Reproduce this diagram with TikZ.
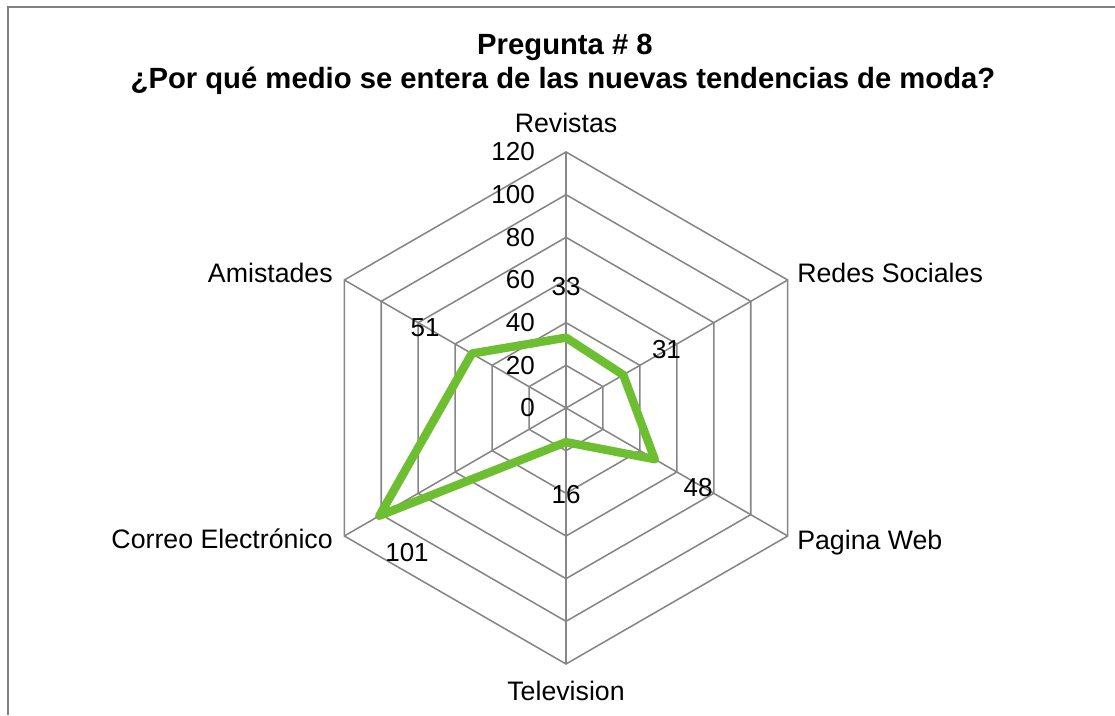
\documentclass[tikz,border=0pt]{standalone}
\usepackage{fontspec}
\setmainfont{Liberation Sans}
\usetikzlibrary{positioning}
\definecolor{chartgray}{RGB}{134,134,134}
\definecolor{chartgreen}{RGB}{110,190,50}
\definecolor{framegray}{RGB}{128,128,128}

\begin{document}
\begin{tikzpicture}[
    x=0.025cm, y=0.025cm,
    frame/.style={draw=framegray, line width=1.5pt},
    grid/.style={draw=chartgray, line width=1.1pt},
    serie/.style={draw=chartgreen, line width=6pt, line join=round},
    axislabel/.style={inner sep=0pt, font=\fontsize{19}{23}\selectfont},
    ticklabel/.style={inner sep=0pt, anchor=east, font=\fontsize{18.5}{22}\selectfont},
    datalabel/.style={inner sep=0pt, font=\fontsize{18.5}{22}\selectfont},
    titlelabel/.style={inner sep=0pt, anchor=base, font=\bfseries\fontsize{20.8}{25}\selectfont}
]
\useasboundingbox (0,0) rectangle (1115,715);
\draw[frame] (8,0) -- (8,708) -- (1115,708);

\node[titlelabel] (title1) at (565,660) {Pregunta \# 8};
\node[titlelabel] (title2) at (563,626) {¿Por qué medio se entera de las nuevas tendencias de moda?};

\begin{scope}[shift={(566,307)}]
    \coordinate (o) at (0,0);
    \coordinate (rev) at (90:256);
    \coordinate (red) at (30:256);
    \coordinate (pag) at (-30:256);
    \coordinate (tel) at (-90:256);
    \coordinate (cor) at (210:256);
    \coordinate (ami) at (150:256);

    % rings every 20
    \draw[grid] (90:42.67) -- (30:42.67) -- (-30:42.67) -- (-90:42.67) -- (210:42.67) -- (150:42.67) -- cycle;
    \draw[grid] (90:85.33) -- (30:85.33) -- (-30:85.33) -- (-90:85.33) -- (210:85.33) -- (150:85.33) -- cycle;
    \draw[grid] (90:128) -- (30:128) -- (-30:128) -- (-90:128) -- (210:128) -- (150:128) -- cycle;
    \draw[grid] (90:170.67) -- (30:170.67) -- (-30:170.67) -- (-90:170.67) -- (210:170.67) -- (150:170.67) -- cycle;
    \draw[grid] (90:213.33) -- (30:213.33) -- (-30:213.33) -- (-90:213.33) -- (210:213.33) -- (150:213.33) -- cycle;
    \draw[grid] (rev) -- (red) -- (pag) -- (tel) -- (cor) -- (ami) -- cycle;

    \draw[grid] (o) -- (rev);
    \draw[grid] (o) -- (red);
    \draw[grid] (o) -- (pag);
    \draw[grid] (o) -- (tel);
    \draw[grid] (o) -- (cor);
    \draw[grid] (o) -- (ami);

    \node[ticklabel] (t0) at (-31,0) {0};
    \node[ticklabel] (t20) at (-31,42.67) {20};
    \node[ticklabel] (t40) at (-31,85.33) {40};
    \node[ticklabel] (t60) at (-31,128) {60};
    \node[ticklabel] (t80) at (-31,170.67) {80};
    \node[ticklabel] (t100) at (-31,213.33) {100};
    \node[ticklabel] (t120) at (-31,256) {120};

    % values
    \coordinate (d1) at (90:70.4);
    \coordinate (d2) at (30:66.13);
    \coordinate (d3) at (-30:102.4);
    \coordinate (d4) at (-90:34.13);
    \coordinate (d5) at (210:215.47);
    \coordinate (d6) at (150:108.8);
    \draw[serie] (d1) -- (d2) -- (d3) -- (d4) -- (d5) -- (d6) -- cycle;

    \node[datalabel] (v1) at (90:121) {33};
    \node[datalabel] (v2) at (30:116) {31};
    \node[datalabel] (v3) at (-31:154) {48};
    \node[datalabel] (v4) at (-90:87) {16};
    \node[datalabel] (v5) at (-159,-145) {101};
    \node[datalabel] (v6) at (150.4:162) {51};

    \node[axislabel, anchor=base] (revistas) at (0,275) {Revistas};
    \node[axislabel, anchor=base west] (redes) at (231,125) {Redes Sociales};
    \node[axislabel, anchor=base west] (pagina) at (231,-142) {Pagina Web};
    \node[axislabel, anchor=base] (television) at (0,-292) {Television};
    \node[axislabel, anchor=base east] (correo) at (-233,-141) {Correo Electrónico};
    \node[axislabel, anchor=base east] (amistades) at (-233,125) {Amistades};
\end{scope}
\end{tikzpicture}
\end{document}
